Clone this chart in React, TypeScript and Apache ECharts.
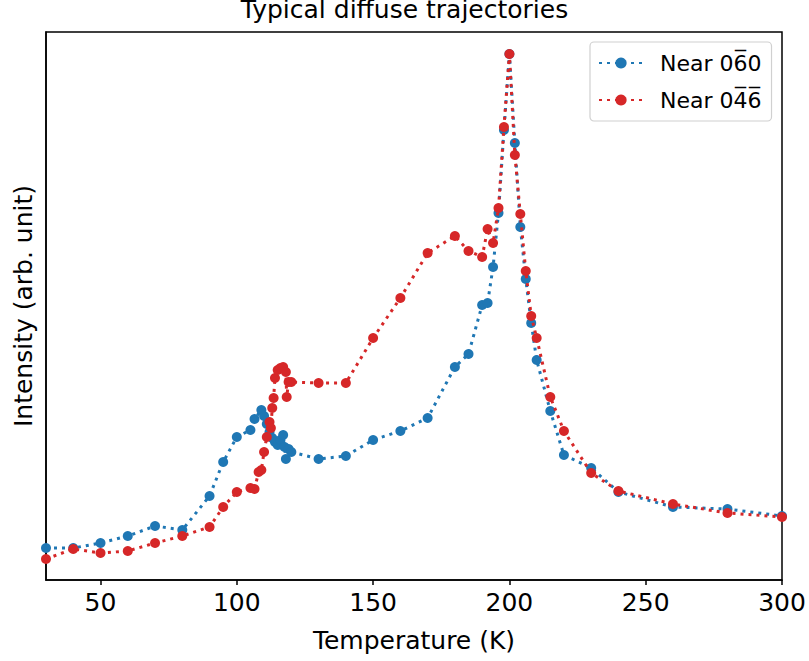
import React, { useEffect, useRef } from "react";
import * as echarts from "echarts";

// Temperature (K) and intensity (arb. unit) for each trajectory
const blueT = [30, 40, 50, 60, 70, 80, 90, 95, 100, 105, 106.5, 109, 110, 111, 112, 113, 114, 115, 116, 117, 117.5, 118, 119, 120, 130, 140, 150, 160, 170, 180, 185, 190, 192, 194, 196, 198, 200, 202, 204, 206, 208, 210, 215, 220, 230, 240, 260, 280, 300];
const blueI = [0.32, 0.32, 0.37, 0.44, 0.54, 0.50, 0.84, 1.18, 1.43, 1.50, 1.61, 1.70, 1.64, 1.56, 1.48, 1.42, 1.38, 1.35, 1.40, 1.45, 1.33, 1.21, 1.31, 1.28, 1.21, 1.24, 1.40, 1.49, 1.62, 2.13, 2.26, 2.75, 2.77, 3.13, 3.67, 4.50, 5.26, 4.37, 3.53, 3.01, 2.57, 2.20, 1.69, 1.25, 1.12, 0.88, 0.73, 0.71, 0.64];

const redT = [30, 40, 50, 60, 70, 80, 90, 95, 100, 105, 106.5, 108, 109, 110, 111, 112, 112.5, 113, 113.5, 114, 115, 116, 117, 118, 118.3, 119, 120, 130, 140, 150, 160, 170, 180, 185, 190, 192, 194, 196, 198, 200, 202, 204, 206, 208, 210, 215, 220, 230, 240, 260, 280, 300];
const redI = [0.21, 0.31, 0.27, 0.29, 0.37, 0.44, 0.53, 0.73, 0.88, 0.92, 0.91, 1.08, 1.10, 1.28, 1.43, 1.58, 1.52, 1.72, 1.82, 2.02, 2.10, 2.12, 2.13, 2.08, 1.83, 1.98, 1.98, 1.97, 1.97, 2.42, 2.82, 3.27, 3.44, 3.29, 3.23, 3.51, 3.37, 3.72, 4.53, 5.26, 4.25, 3.66, 3.09, 2.64, 2.42, 1.83, 1.49, 1.07, 0.89, 0.76, 0.67, 0.63];

const xTicks = [50, 100, 150, 200, 250, 300];
const seriesNames = ["Near 06\u03050", "Near 04\u03056\u0305"];
const seriesColors = ["#1f77b4", "#d62728"];

const FONT = "DejaVu Sans";

export default function App() {
  const ref = useRef<HTMLDivElement>(null);
  useEffect(() => {
    if (!ref.current) return;
    const chart = echarts.init(ref.current, null, { renderer: "svg" });
    const mk = (ts: number[], vs: number[]) => ts.map((t, i) => [t, vs[i]]);
    const datasets = [mk(blueT, blueI), mk(redT, redI)];
    chart.setOption({
      animation: false,
      backgroundColor: "#fff",
      title: {
        text: "Typical diffuse trajectories",
        left: "center",
        top: -3,
        padding: 0,
        textStyle: { fontFamily: FONT, fontSize: 25, fontWeight: "normal", color: "#000" },
      },
      legend: {
        left: 590,
        top: 42,
        orient: "vertical",
        padding: [10, 10, 10, 8],
        itemGap: 15,
        itemWidth: 44,
        itemHeight: 14,
        borderColor: "#d0d0d0",
        borderWidth: 1.2,
        borderRadius: 4,
        backgroundColor: "#fff",
        textStyle: { fontFamily: FONT, fontSize: 22, color: "#000", padding: [0, 0, 0, 12] },
        data: seriesNames,
      },
      grid: {
        left: 46,
        right: 27,
        top: 32,
        bottom: 81,
        show: true,
        borderColor: "#000",
        borderWidth: 1.5,
        backgroundColor: "transparent",
      },
      xAxis: {
        type: "value",
        min: 30,
        max: 300,
        name: "Temperature (K)",
        nameLocation: "middle",
        nameGap: 48,
        nameTextStyle: { fontFamily: FONT, fontSize: 25, color: "#000" },
        axisLine: { show: true, lineStyle: { color: "#000", width: 1.5 } },
        axisTick: { show: true, length: 5, lineStyle: { color: "#000", width: 1.5 }, customValues: xTicks },
        axisLabel: { fontFamily: FONT, fontSize: 25, color: "#000", margin: 10, customValues: xTicks },
        splitLine: { show: false },
      },
      yAxis: {
        type: "value",
        min: 0,
        max: 5.48,
        name: "Intensity (arb. unit)",
        nameLocation: "middle",
        nameGap: 10,
        nameTextStyle: { fontFamily: FONT, fontSize: 25, color: "#000" },
        axisLine: { show: true, lineStyle: { color: "#000", width: 1.5 } },
        axisTick: { show: false },
        axisLabel: { show: false },
        splitLine: { show: false },
      },
      series: datasets.map((d, i) => ({
        name: seriesNames[i],
        type: "line",
        data: d,
        color: seriesColors[i],
        symbol: "circle",
        symbolSize: 10,
        showAllSymbol: true,
        lineStyle: { width: 3, type: [3, 5], color: seriesColors[i] },
        itemStyle: { color: seriesColors[i] },
        z: 2 + i,
      })),
    });
    return () => chart.dispose();
  }, []);
  return (
    <div
      ref={ref}
      style={{ position: "absolute", left: 0, top: 0, width: 809, height: 661 }}
    />
  );
}
